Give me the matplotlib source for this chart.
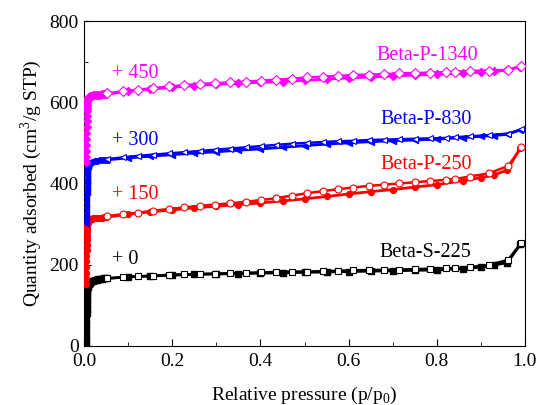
import matplotlib

matplotlib.use("Agg")
import matplotlib.pyplot as plt
from matplotlib.ticker import MultipleLocator

plt.rcParams['font.family'] = 'Liberation Serif'
plt.rcParams['mathtext.fontset'] = 'custom'
plt.rcParams['mathtext.rm'] = 'Liberation Serif'

# relative pressure of the adsorption branch (dense in the micropore region)
P_ADS = [0.004, 0.0042, 0.0044, 0.0046, 0.0048, 0.005, 0.0052, 0.0054,
         0.0056, 0.0058, 0.006, 0.0063, 0.0066, 0.007, 0.0075, 0.008, 0.009,
         0.01, 0.012, 0.014, 0.017, 0.02, 0.024, 0.028, 0.032, 0.036, 0.04,
         0.045,
         0.05, 0.1, 0.15, 0.2, 0.25, 0.3, 0.35, 0.4, 0.45, 0.5, 0.55, 0.6,
         0.65, 0.7, 0.75, 0.8, 0.86, 0.9, 0.93, 0.96, 0.99]
# relative pressure of the desorption branch
P_DES = [0.052, 0.087, 0.122, 0.157, 0.192, 0.227, 0.262, 0.297, 0.331,
         0.366, 0.401, 0.436, 0.471, 0.506, 0.541, 0.576, 0.611, 0.646,
         0.680, 0.715, 0.750, 0.785, 0.820, 0.841, 0.875, 0.918, 0.962,
         0.992]

SAMPLES = ['Beta-S-225', 'Beta-P-250', 'Beta-P-830', 'Beta-P-1340']
OFFSETS = [0, 150, 300, 450]
COLORS = ['black', 'red', 'blue', 'magenta']
MARKERS = ['s', 'o', '<', 'D']

ADS_S225 = [3, 15, 28, 41, 54, 67, 80, 92, 103, 113, 122, 130, 136, 141,
            145, 148, 151, 153, 156, 158, 160, 161, 162, 163, 164, 165, 165,
            166,
            166, 170, 172, 174, 176, 177, 178, 179, 180, 181, 182, 183, 184,
            185, 186, 187, 190, 194, 199, 205, 250]
DES_S225 = [166, 169, 171, 173, 175, 176, 177, 178, 179, 180, 181, 182, 183,
            183, 184, 185, 186, 187, 187, 188, 189, 190, 191, 192, 194, 199,
            212, 254]

ADS_P250 = [3, 16, 30, 44, 58, 72, 86, 99, 111, 121, 130, 137, 143, 148,
            152, 155, 157, 159, 161, 162, 163, 164, 165, 165, 166, 166, 166,
            167,
            167, 174, 180, 185, 190, 194, 198, 202, 207, 212, 218, 224, 230,
            235, 241, 247, 257, 264, 271, 283, 338]
DES_P250 = [170, 174, 178, 183, 187, 191, 195, 198, 201, 205, 209, 214, 220,
            226, 231, 236, 240, 244, 247, 250, 253, 256, 259, 261, 267, 275,
            293, 339]

ADS_P830 = [3, 15, 28, 41, 54, 67, 80, 92, 103, 112, 120, 127, 133, 138,
            142, 145, 148, 150, 152, 154, 155, 156, 156, 157, 157, 157, 158,
            158,
            158, 163, 167, 171, 175, 178, 182, 185, 189, 193, 197, 200, 203,
            205, 207, 209, 213, 216, 218, 221, 232]
DES_P830 = [160, 164, 168, 171, 174, 177, 180, 183, 186, 189, 192, 195, 198,
            200, 202, 204, 205, 207, 208, 209, 210, 211, 212, 214, 216, 219,
            223, 233]

ADS_P1340 = [3, 16, 30, 45, 60, 75, 90, 104, 117, 128, 137, 144, 150, 154,
             157, 159, 161, 163, 164, 165, 166, 167, 168, 168, 169, 169, 170,
             170,
             170, 177, 182, 187, 191, 194, 197, 199, 201, 204, 207, 210, 212,
             215, 217, 219, 222, 224, 226, 229, 238]
DES_P1340 = [172, 177, 181, 185, 189, 192, 195, 197, 199, 201, 203, 206, 208,
             211, 213, 215, 217, 218, 219, 221, 222, 223, 224, 225, 227, 228,
             230, 239]

ADS = [ADS_S225, ADS_P250, ADS_P830, ADS_P1340]
DES = [DES_S225, DES_P250, DES_P830, DES_P1340]

# label positions (p, quantity)
NAME_POS = [(0.775, 230), (0.775, 446), (0.775, 558), (0.778, 716)]
OFFSET_POS = [(0.063, 212), (0.063, 372), (0.063, 507), (0.063, 672)]

fig = plt.figure(figsize=(5.4, 4.05), dpi=100)
ax = fig.add_axes([0.156, 0.146, 0.816, 0.802])

for i in range(len(SAMPLES)):
    off = OFFSETS[i]
    c = COLORS[i]
    ax.plot(P_ADS, [v + off for v in ADS[i]], color=c, lw=2,
            marker=MARKERS[i], ms=4.2, mfc=c, mec=c, zorder=2 + i)
    ax.plot(P_DES, [v + off for v in DES[i]], color=c, lw=1.8,
            marker=MARKERS[i], ms=5, mfc='white', mec=c, mew=0.8,
            zorder=2.5 + i)
    ax.text(NAME_POS[i][0], NAME_POS[i][1], SAMPLES[i], color=c,
            fontsize=14.5, ha='center', va='center')
    ax.text(OFFSET_POS[i][0], OFFSET_POS[i][1], '+ %d' % off, color=c,
            fontsize=14.5, ha='left', va='center')

ax.set_xlim(0, 1.0)
ax.set_ylim(0, 800)
ax.xaxis.set_major_locator(MultipleLocator(0.2))
ax.xaxis.set_minor_locator(MultipleLocator(0.1))
ax.yaxis.set_major_locator(MultipleLocator(200))
ax.yaxis.set_minor_locator(MultipleLocator(100))
ax.xaxis.set_major_formatter(plt.FormatStrFormatter('%.1f'))
ax.tick_params(which='both', direction='in', top=False, right=False,
               labelsize=14)
ax.tick_params(axis='x', which='major', length=5, pad=5)
ax.tick_params(axis='y', which='major', length=5, pad=4)
ax.tick_params(which='minor', length=3)
ax.set_xlabel('Relative pressure (p/p$_\\mathregular{0}$)', fontsize=14,
              labelpad=11)
ax.set_ylabel('Quantity adsorbed (cm$^\\mathregular{3}$/g STP)', fontsize=14,
              labelpad=4)

fig.savefig("out.png")
